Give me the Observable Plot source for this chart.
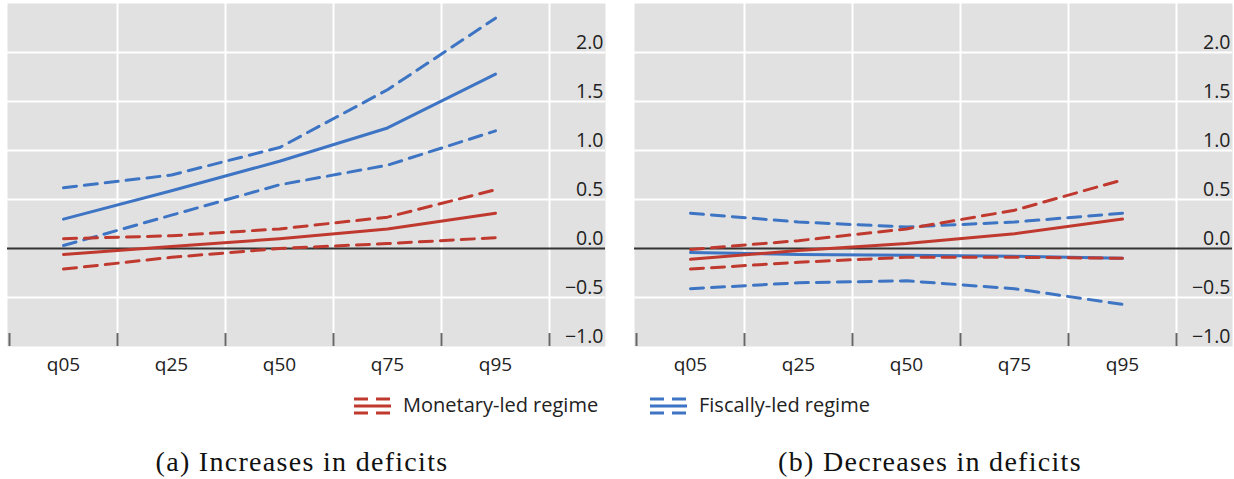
<!DOCTYPE html>
<html>
<head>
<meta charset="utf-8">
<script src="https://cdn.jsdelivr.net/npm/d3@7"></script>
<script src="https://cdn.jsdelivr.net/npm/@observablehq/plot@0.6"></script>
<style>
  html, body { margin: 0; padding: 0; background: #fff; overflow: hidden; }
  #root { position: relative; width: 1234px; height: 479px; }
  #root > svg { position: absolute; top: 0; }
</style>
</head>
<body>
<div id="root"></div>
<script>
// ---- Data ----
const categories = ["q05", "q25", "q50", "q75", "q95"];
const yTicks = [-1.0, -0.5, 0.0, 0.5, 1.0, 1.5, 2.0];
const regimes = ["Monetary-led regime", "Fiscally-led regime"];
const captions = ["(a) Increases in deficits", "(b) Decreases in deficits"];

// (a) Increases in deficits
const monA_mid = [-0.06, 0.02, 0.10, 0.20, 0.36];
const monA_up  = [0.10, 0.13, 0.20, 0.32, 0.60];
const monA_lo  = [-0.21, -0.09, 0.00, 0.05, 0.11];
const fisA_mid = [0.30, 0.59, 0.89, 1.23, 1.78];
const fisA_up  = [0.62, 0.75, 1.03, 1.62, 2.35];
const fisA_lo  = [0.03, 0.34, 0.65, 0.85, 1.20];

// (b) Decreases in deficits
const monB_mid = [-0.11, -0.02, 0.05, 0.15, 0.30];
const monB_up  = [-0.01, 0.08, 0.20, 0.39, 0.70];
const monB_lo  = [-0.21, -0.14, -0.09, -0.09, -0.10];
const fisB_mid = [-0.04, -0.06, -0.07, -0.08, -0.10];
const fisB_up  = [0.36, 0.27, 0.22, 0.27, 0.36];
const fisB_lo  = [-0.41, -0.35, -0.33, -0.41, -0.57];

// ---- Styles ----
const RED = "#c0392f";
const BLUE = "#3d74c3";
const GRAY = "#e1e1e1";
const FONT = "'Open Sans', 'Noto Sans', sans-serif";

function toRows(series) {
  const rows = [];
  for (const s of series) {
    s.values.forEach((v, i) => rows.push({regime: s.regime, kind: s.kind, series: s.regime + "-" + s.kind, i, v}));
  }
  return rows;
}

const panelA = toRows([
  {regime: regimes[1], kind: "lo", values: fisA_lo},
  {regime: regimes[1], kind: "up", values: fisA_up},
  {regime: regimes[1], kind: "mid", values: fisA_mid},
  {regime: regimes[0], kind: "lo", values: monA_lo},
  {regime: regimes[0], kind: "up", values: monA_up},
  {regime: regimes[0], kind: "mid", values: monA_mid}
]);
const panelB = toRows([
  {regime: regimes[1], kind: "lo", values: fisB_lo},
  {regime: regimes[1], kind: "up", values: fisB_up},
  {regime: regimes[1], kind: "mid", values: fisB_mid},
  {regime: regimes[0], kind: "lo", values: monB_lo},
  {regime: regimes[0], kind: "up", values: monB_up},
  {regime: regimes[0], kind: "mid", values: monB_mid}
]);

const xIdx = categories.map((_, i) => i);
const xBounds = [-0.5, ...xIdx.map(i => i + 0.5)];
const yGrid = yTicks.filter(d => d !== 0 && d !== -1);
const fmt = d3.format(".1f");

function panel(rows, width) {
  const colorOf = r => r === regimes[0] ? RED : BLUE;
  const lineMarks = [];
  for (const reg of [regimes[1], regimes[0]]) {
    const sub = rows.filter(d => d.regime === reg);
    lineMarks.push(Plot.line(sub.filter(d => d.kind !== "mid"), {
      x: "i", y: "v", z: "series", stroke: colorOf(reg), strokeWidth: 3,
      strokeDasharray: "13,8", curve: "linear"
    }));
    lineMarks.push(Plot.line(sub.filter(d => d.kind === "mid"), {
      x: "i", y: "v", z: "series", stroke: colorOf(reg), strokeWidth: 3, curve: "linear"
    }));
  }
  return Plot.plot({
    width, height: 380,
    marginTop: 3, marginBottom: 34, marginLeft: 7, marginRight: width - 605,
    x: {type: "linear", domain: [-0.5, 4.5], range: [9, 549], label: null},
    y: {type: "linear", domain: [-1, 2.5], axis: null},
    style: {fontFamily: FONT, fontSize: "19px", color: "#222", background: "transparent"},
    marks: [
      Plot.frame({fill: GRAY, stroke: null}),
      Plot.ruleY(yGrid, {stroke: "white", strokeWidth: 2}),
      Plot.ruleX(xBounds.slice(1), {stroke: "white", strokeWidth: 2}),
      Plot.ruleY([0], {stroke: "#333", strokeWidth: 2}),
      Plot.axisX({ticks: xBounds, tickSize: -13, tickFormat: () => "", label: null, stroke: "#666", strokeWidth: 2, strokeOpacity: 1}),
      Plot.axisX({ticks: xIdx, tickSize: 0, tickPadding: 11, tickFormat: i => categories[i], label: null, fill: "#222", fontSize: 19}),
      ...lineMarks,
      Plot.text(yTicks, {y: d => d, text: d => fmt(d), frameAnchor: "right", textAnchor: "end", lineAnchor: "bottom", dx: -2, dy: -4, fill: "#222", fontSize: 19.5})
    ]
  });
}

const root = document.getElementById("root");
const a = panel(panelA, 617);
a.style.left = "0px";
root.appendChild(a);
const b = panel(panelB, 607);
b.style.left = "627px";
root.appendChild(b);

// Legend and captions
const over = d3.create("svg").attr("width", 1234).attr("height", 479)
  .style("position", "absolute").style("left", "0px").style("top", "0px");
const legendItems = [
  {label: regimes[0], color: RED, x: 354},
  {label: regimes[1], color: BLUE, x: 650}
];
for (const it of legendItems) {
  const g = over.append("g").attr("transform", `translate(${it.x},0)`);
  g.append("line").attr("x1", 0).attr("x2", 37).attr("y1", 399).attr("y2", 399)
    .attr("stroke", it.color).attr("stroke-width", 3).attr("stroke-dasharray", "14,8");
  g.append("line").attr("x1", 0).attr("x2", 37).attr("y1", 406).attr("y2", 406)
    .attr("stroke", it.color).attr("stroke-width", 3);
  g.append("line").attr("x1", 0).attr("x2", 37).attr("y1", 413).attr("y2", 413)
    .attr("stroke", it.color).attr("stroke-width", 3).attr("stroke-dasharray", "14,8");
  g.append("text").attr("x", 49).attr("y", 412).text(it.label)
    .attr("font-family", FONT).attr("font-size", 20).attr("fill", "#222");
}
[[302, captions[0]], [930, captions[1]]].forEach(([x, t]) => {
  over.append("text").attr("x", x).attr("y", 471).attr("text-anchor", "middle")
    .attr("font-family", "'Liberation Serif', serif").attr("font-size", 28)
    .attr("letter-spacing", "1.3px").attr("fill", "#111").text(t);
});
root.appendChild(over.node());
</script>
</body>
</html>
